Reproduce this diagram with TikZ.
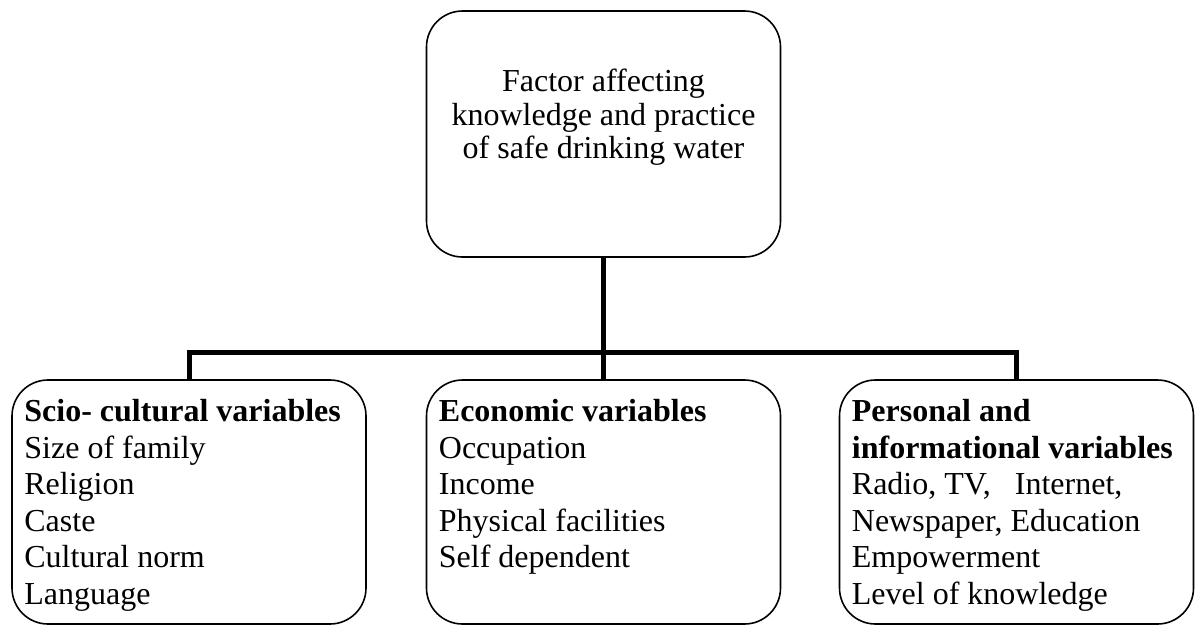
\documentclass[tikz,border=0pt]{standalone}
\usepackage{fontspec}
\setmainfont{Liberation Serif}
\begin{document}
\begin{tikzpicture}[x=1pt,y=-1pt,
  roundbox/.style={draw=black,line width=1.6pt,rounded corners=36pt,
    minimum width=354pt,inner sep=0pt},
  boxtext/.style={inner sep=0pt,align=left,anchor=north west,
    font=\fontsize{32}{36.5}\selectfont},
  conn/.style={draw=black,line width=5pt,line join=miter}]
\useasboundingbox (0,0) rectangle (1198,624);

% top box with the central theme
\node[roundbox,minimum height=246pt] (top) at (603.5,134) {};
\node[inner sep=0pt,align=center,anchor=north,
      font=\fontsize{32}{33.5}\selectfont] (toptext) at (603.5,69)
  {Factor affecting\\knowledge and practice\\of safe drinking water};

% three groups of variables
\node[roundbox,minimum height=244pt] (left)  at (189,502) {};
\node[roundbox,minimum height=244pt] (mid)   at (603.5,502) {};
\node[roundbox,minimum height=244pt] (right) at (1016.5,502) {};

\node[boxtext] (lefttext) at ([xshift=13pt,yshift=-20pt]left.north west)
  {\textbf{Scio- cultural variables}\\Size of family\\Religion\\Caste\\Cultural norm\\Language};
\node[boxtext] (midtext) at ([xshift=13pt,yshift=-20pt]mid.north west)
  {\textbf{Economic variables}\\Occupation\\Income\\Physical facilities\\Self dependent};
\node[boxtext] (righttext) at ([xshift=13pt,yshift=-20pt]right.north west)
  {\textbf{Personal and}\\\textbf{informational variables}\\Radio, TV,\hspace{0.5em} Internet,\\Newspaper, Education\\Empowerment\\Level of knowledge};

% connector tree
\coordinate (bus) at (0,352);
\draw[conn] (top.south) -- (top.south |- bus);
\draw[conn] (left.north) -- (left.north |- bus) -- (right.north |- bus) -- (right.north);
\draw[conn] (mid.north) -- (mid.north |- bus);
\end{tikzpicture}
\end{document}
